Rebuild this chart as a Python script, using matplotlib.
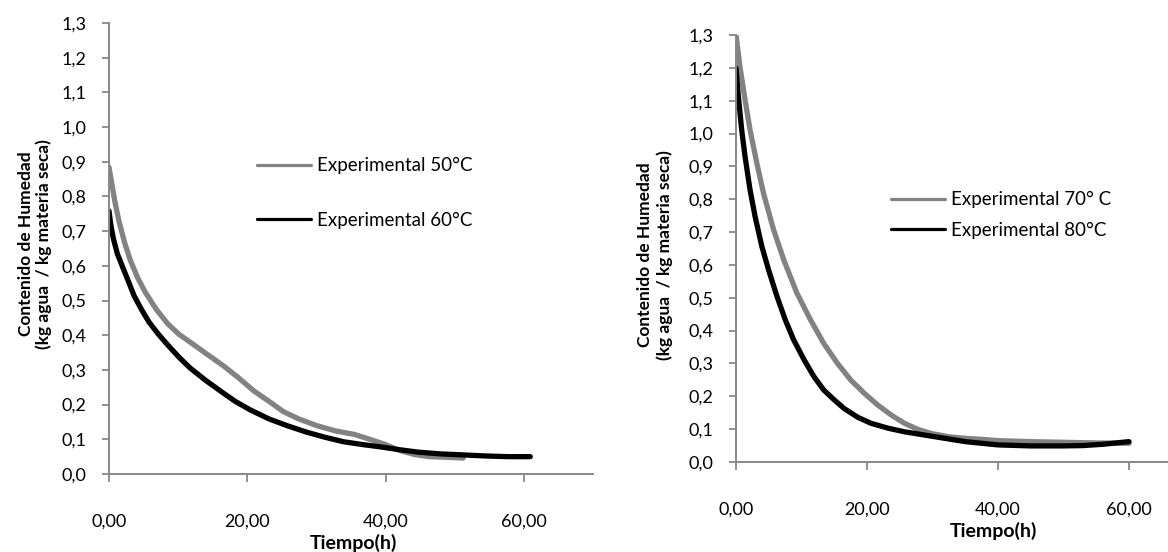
import numpy as np
import matplotlib
matplotlib.use('Agg')
from matplotlib import pyplot as plt
from matplotlib.ticker import FuncFormatter

# datos (tiempo en h, humedad en kg agua / kg materia seca)
t_50 = [0, 0.38, 0.92, 1.46, 2.27, 3.08, 4.16, 5.24, 6.86, 8.49, 10.1, 12.3, 14.4, 16.6, 18.8,
        20.9, 23.1, 25.2, 27.4, 30.1, 32.8, 35.5, 37.7, 39.8, 42.0, 44.2, 46.3, 49.0, 51.2]
x_50 = [0.884, 0.839, 0.778, 0.727, 0.666, 0.616, 0.565, 0.524, 0.474, 0.433, 0.403, 0.372, 0.342,
        0.311, 0.276, 0.240, 0.210, 0.180, 0.159, 0.139, 0.124, 0.114, 0.100, 0.086, 0.068, 0.056,
        0.050, 0.048, 0.046]

t_60 = [0, 0.27, 0.65, 1.19, 2.0, 2.81, 3.62, 4.7, 5.78, 7.14, 8.49, 10.1, 11.7, 13.9, 16.05, 18.2,
        20.4, 23.1, 25.8, 28.5, 31.2, 33.9, 36.6, 39.3, 42.0, 44.7, 47.9, 51.2, 54.4, 57.7, 60.9]
x_60 = [0.758, 0.717, 0.677, 0.636, 0.595, 0.555, 0.514, 0.474, 0.438, 0.403, 0.372, 0.337, 0.306,
        0.271, 0.240, 0.210, 0.185, 0.159, 0.139, 0.121, 0.106, 0.093, 0.085, 0.078, 0.070, 0.063,
        0.058, 0.055, 0.052, 0.050, 0.050]

t_70 = [0, 0.6, 1.38, 2.15, 3.18, 4.2, 5.74, 7.3, 9.3, 11.4, 13.4, 15.5, 17.5, 19.6, 21.6, 23.7,
        25.7, 27.8, 29.8, 32.4, 35.0, 37.5, 40, 45, 50, 55, 60]
x_70 = [1.30, 1.204, 1.103, 1.011, 0.910, 0.818, 0.707, 0.615, 0.514, 0.432, 0.361, 0.300, 0.250,
        0.209, 0.174, 0.143, 0.118, 0.099, 0.087, 0.077, 0.072, 0.069, 0.065, 0.062, 0.060, 0.058,
        0.057]

t_80 = [0, 0.36, 0.87, 1.38, 2.15, 2.92, 3.95, 4.97, 6.26, 7.54, 8.8, 10.4, 11.9, 13.4, 15.0, 16.5,
        18.6, 20.6, 23.2, 25.7, 28.8, 31.9, 35.0, 37.5, 40, 45, 50, 53, 56, 60]
x_80 = [1.199, 1.113, 1.011, 0.930, 0.828, 0.747, 0.656, 0.585, 0.504, 0.432, 0.372, 0.311, 0.260,
        0.219, 0.189, 0.163, 0.136, 0.118, 0.103, 0.092, 0.082, 0.072, 0.062, 0.057, 0.052, 0.049,
        0.049, 0.050, 0.054, 0.062]

x_ticks = [0, 20, 40, 60]
y_ticks = [i / 10 for i in range(14)]

plt.rcParams['font.family'] = ['Lato', 'DejaVu Sans']
W, H = 1168, 552
fig = plt.figure(figsize=(W / 100, H / 100), dpi=100)

GRIS = '#828282'
EJE = '#888888'
LW = 3.8


def formato(ax):
    for s in ['top', 'right']:
        ax.spines[s].set_visible(False)
    for s in ['left', 'bottom']:
        ax.spines[s].set_color(EJE)
        ax.spines[s].set_linewidth(1.4)
    ax.set_xlim(0, 70)
    ax.set_ylim(0, 1.3)
    ax.set_xticks(x_ticks)
    ax.set_yticks(y_ticks)
    ax.xaxis.set_major_formatter(FuncFormatter(lambda v, p: '{:.2f}'.format(v).replace('.', ',')))
    ax.yaxis.set_major_formatter(FuncFormatter(lambda v, p: '{:.1f}'.format(v).replace('.', ',')))
    ax.tick_params(axis='x', direction='out', length=5.8, width=1.3, color=EJE, pad=23, labelsize=13)
    ax.tick_params(axis='y', direction='out', length=5, width=1.3, color=EJE, pad=11.5, labelsize=13)
    ax.patch.set_alpha(0)


def leyenda(ax, x, y, esp):
    leg = ax.legend(loc='upper left', bbox_to_anchor=(x, y), frameon=False, fontsize=13.5,
                    handlelength=2.9, handletextpad=0.32, labelspacing=esp,
                    borderpad=0, borderaxespad=0)
    for l in leg.get_lines():
        l.set_linewidth(2.3)


# grafica izquierda: 50 y 60 °C
ax1 = fig.add_axes([109 / W, (H - 474) / H, 70 * 6.917 / W, 451 / H])
ax1.plot(t_50, x_50, color=GRIS, lw=LW, solid_capstyle='round', solid_joinstyle='round',
         label='Experimental 50°C')
ax1.plot(t_60, x_60, color='black', lw=LW, solid_capstyle='round', solid_joinstyle='round',
         label='Experimental 60°C')
formato(ax1)
ax1.set_xlabel('Tiempo(h)', fontweight='bold', fontsize=14, va='center')
ax1.xaxis.set_label_coords((353 - 109) / 484, (474 - 543) / 451)
leyenda(ax1, (257 - 109) / 484, (474 - 157) / 451, 2.0)

# grafica derecha: 70 y 80 °C
ax2 = fig.add_axes([736 / W, (H - 462) / H, 70 * 6.55 / W, 427 / H])
ax2.plot(t_70, x_70, color=GRIS, lw=LW, solid_capstyle='round', solid_joinstyle='round',
         label='Experimental 70° C')
ax2.plot(t_80, x_80, color='black', lw=LW, solid_capstyle='round', solid_joinstyle='round',
         label='Experimental 80°C')
formato(ax2)
ax2.set_xlabel('Tiempo(h)', fontweight='bold', fontsize=14, va='center')
ax2.xaxis.set_label_coords((993 - 736) / 458.5, (462 - 531) / 427)
leyenda(ax2, (891 - 736) / 458.5, (462 - 191) / 427, 0.73)

etiqueta = 'Contenido de Humedad\n(kg agua  / kg materia seca)'
fig.text(35 / W, 1 - 244 / H, etiqueta, rotation=90, ha='center', va='center',
         multialignment='center', fontweight='bold', fontsize=12.5, linespacing=1.05)
fig.text(655 / W, 1 - 255 / H, etiqueta, rotation=90, ha='center', va='center',
         multialignment='center', fontweight='bold', fontsize=12.5, linespacing=1.3)

fig.savefig('out.png', dpi=100)
